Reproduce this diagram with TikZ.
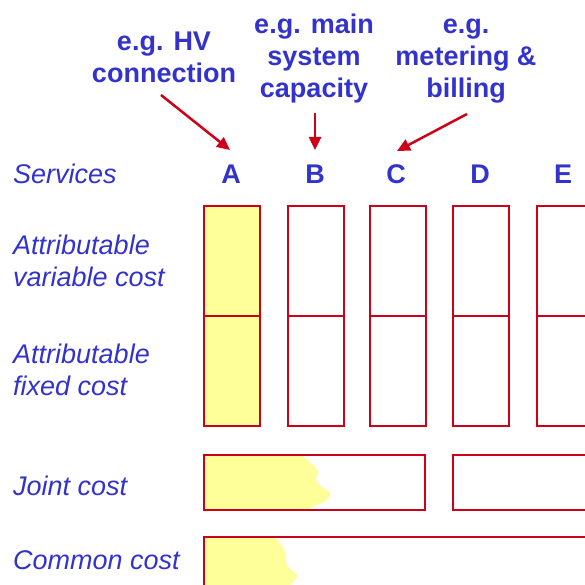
\documentclass[tikz,border=0pt]{standalone}
\usepackage{fontspec}
\setmainfont{Liberation Sans}
\usetikzlibrary{arrows.meta}
\definecolor{lblblue}{HTML}{3333CC}
\definecolor{boxred}{HTML}{CC0018}
\definecolor{paleyellow}{HTML}{FFFF99}
\tikzset{
  lbl/.style={text=lblblue, font=\fontsize{27}{32}\selectfont\itshape, align=left, anchor=base west, inner sep=0pt},
  toplbl/.style={text=lblblue, font=\fontsize{27}{32}\selectfont\bfseries, align=center, anchor=base, inner sep=0pt},
  letter/.style={text=lblblue, font=\fontsize{27}{32}\selectfont\bfseries, anchor=base, inner sep=0pt},
  cell/.style={draw=boxred, line width=2pt, anchor=north west, inner sep=0pt, minimum width=56pt, minimum height=110pt},
  band/.style={draw=boxred, line width=2pt, anchor=north west, inner sep=0pt},
  redarrow/.style={draw=boxred, line width=2.5pt, -{Triangle[length=13pt,width=12pt]}},
  blob/.style={fill=paleyellow, draw=none}
}
\begin{document}
\begin{tikzpicture}[x=1pt,y=-1pt]
\useasboundingbox (0,0) rectangle (584,585);
% left labels (base = baseline of last line)
\node[lbl] (services) at (13,184) {Services};
\node[lbl] (avc) at (13,286) {Attributable\\variable cost};
\node[lbl] (afc) at (13,395) {Attributable\\fixed cost};
\node[lbl] (joint) at (13,495) {Joint cost};
\node[lbl] (common) at (13,569) {Common cost};
% column letters
\node[letter] (A) at (231,184) {A};
\node[letter] (B) at (315,184) {B};
\node[letter] (C) at (396,184) {C};
\node[letter] (D) at (480,184) {D};
\node[letter] (E) at (563,184) {E};
% top labels
\node[toplbl] (hv) at (164,83) {e.g. HV\\connection};
\node[toplbl] (main) at (314,98) {e.g. main\\system\\capacity};
\node[toplbl] (meter) at (466,98) {e.g.\\metering \&\\billing};
% arrows
\coordinate (hvs) at (161,95);
\coordinate (hvt) at (230,150);
\coordinate (mains) at (315,113);
\coordinate (maint) at (315,150);
\coordinate (meters) at (467,114);
\coordinate (metert) at (397,151);
\draw[redarrow] (hvs) -- (hvt);
\draw[redarrow] (mains) -- (maint);
\draw[redarrow] (meters) -- (metert);
% yellow blobs
\fill[blob] (203,454) -- plot[smooth] coordinates {(300,454) (305,458) (313,465) (318,472) (316,480) (322,487) (330,493) (327,500) (317,505) (308,509)} -- (203,509) -- cycle;
\fill[blob] (203,536) -- plot[smooth] coordinates {(273,536) (280,543) (285,552) (285,558) (288,567) (297,575) (293,582) (289,586)} -- (203,586) -- cycle;
% cells
\node[cell, fill=paleyellow] (A1) at (203,205) {};
\node[cell, fill=paleyellow] (A2) at (203,315) {};
\node[cell] (B1) at (287,205) {};
\node[cell] (B2) at (287,315) {};
\node[cell] (C1) at (369,205) {};
\node[cell] (C2) at (369,315) {};
\node[cell] (D1) at (452,205) {};
\node[cell] (D2) at (452,315) {};
\node[cell] (E1) at (536,205) {};
\node[cell] (E2) at (536,315) {};
% bands
\node[band, minimum width=221pt, minimum height=55pt] (J1) at (203,454) {};
\node[band, minimum width=160pt, minimum height=55pt] (J2) at (452,454) {};
\node[band, minimum width=400pt, minimum height=80pt] (CC) at (203,536) {};
\end{tikzpicture}
\end{document}
